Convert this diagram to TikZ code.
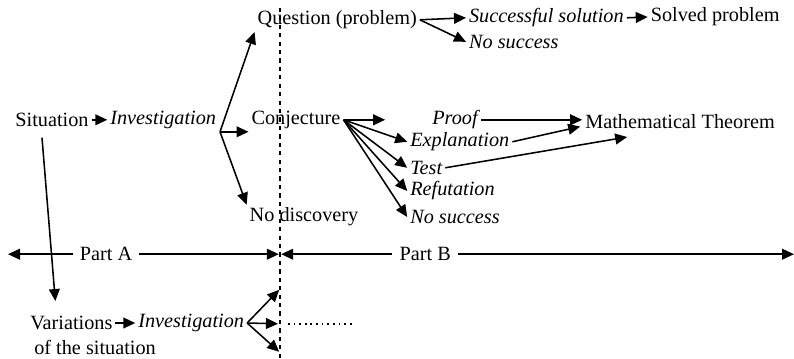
\documentclass[tikz,border=0pt]{standalone}
\usepackage{fontspec}
\setmainfont{Liberation Serif}
\usetikzlibrary{arrows.meta,calc}
\newcommand{\diagfont}{\fontsize{14.4}{17}\selectfont}
\tikzset{
  lab/.style={inner sep=2pt, font=\diagfont},
  ilab/.style={inner sep=2pt, font=\diagfont\itshape},
  partlab/.style={inner xsep=5pt, inner ysep=2pt, font=\diagfont},
  flow/.style={-{Triangle[length=3mm,width=2.7mm]}, line width=1.1pt},
  divider/.style={dashed, line width=1pt},
  dotrail/.style={line width=1.2pt, dash pattern=on 1.2pt off 2.8pt},
}

\begin{document}
\begin{tikzpicture}
    \useasboundingbox (0,0) rectangle (19.85,8.975);
    \node[lab] (sit) at (1.30,5.98) {Situation};
    \node[ilab] (inv) at (4.08,5.98) {Investigation};
    \coordinate (invb) at (5.50,5.68);
    \node[lab] (q) at (8.43,8.48) {Question (problem)};
    \node[lab] (conj) at (7.40,5.98) {Conjecture};
    \node[lab] (nodisc) at (7.60,3.55) {No discovery};
    \node[ilab, anchor=west] (succ) at (11.65,8.53) {Successful solution};
    \node[lab] (solved) at (17.88,8.55) {Solved problem};
    \node[ilab, anchor=west] (nos1) at (11.65,7.93) {No success};
    \node[ilab, anchor=west] (proof) at (10.73,5.98) {Proof};
    \node[ilab, anchor=west] (expl) at (10.18,5.43) {Explanation};
    \node[ilab, anchor=west] (test) at (10.18,4.78) {Test};
    \node[ilab, anchor=west] (refut) at (10.18,4.20) {Refutation};
    \node[ilab, anchor=west] (nos2) at (10.18,3.55) {No success};
    \node[lab] (thm) at (17.00,5.93) {Mathematical Theorem};
    \coordinate (thmin) at (15.68,5.55);
    \draw[flow] (sit) -- (inv);
    \draw[flow] (invb) -- (q.south west);
    \draw[flow] (invb) -- (invb -| conj.west);
    \draw[flow] (invb) -- (nodisc.north west);
    \draw[flow] (q.east) -- (succ.west);
    \draw[flow] (q.east) -- (nos1.west);
    \draw[flow] (succ.east) -- (solved.west);
    \draw[flow] (conj.east) -- ($(proof.west)+(-1.1,0)$);
    \foreach \t in {expl,test,refut,nos2}
      \draw[flow] (conj.east) -- (\t.west);
    \draw[flow] (proof.east) -- (proof.east -| thm.west);
    \draw[flow] (expl.east) -- ($(thm.west)+(-0.05,-0.12)$);
    \draw[flow] (test.east) -- (thmin);
    % parts
    \coordinate (dtop) at (7.0,8.78);
    \coordinate (dbot) at (7.0,0);
    \draw[divider] (dtop) -- (dbot);
    \coordinate (lend) at (0.2,2.62);
    \coordinate (mid) at (7.0,2.62);
    \coordinate (rend) at (19.85,2.62);
    \node[partlab] (pa) at (2.65,2.62) {Part A};
    \node[partlab] (pb) at (10.63,2.62) {Part B};
    \draw[flow] (pa.west) -- (lend);
    \draw[flow, shorten >=0.3mm] (pa.east) -- (mid);
    \draw[flow, shorten >=0.3mm] (pb.west) -- (mid);
    \draw[flow] (pb.east) -- (rend);
    % variations
    \node[lab, anchor=west] (var) at (0.68,0.90) {Variations};
    \node[lab, anchor=west] (varsub) at (0.78,0.30) {of the situation};
    \node[ilab] (inv2) at (4.78,0.90) {Investigation};
    \coordinate (iup) at (6.98,1.73);
    \coordinate (imid) at (6.95,0.88);
    \coordinate (idn) at (6.98,0.18);
    \coordinate (dots0) at (7.20,0.88);
    \coordinate (dots1) at (8.88,0.88);
    \draw[flow] ([xshift=-2.5mm,yshift=-2mm]sit.south) -- ([xshift=-4mm,yshift=3mm]var.north);
    \draw[flow] (var) -- (inv2);
    \foreach \e in {iup,imid,idn}
      \draw[flow] (inv2.east) -- (\e);
    \draw[dotrail] (dots0) -- (dots1);
\end{tikzpicture}
\end{document}
